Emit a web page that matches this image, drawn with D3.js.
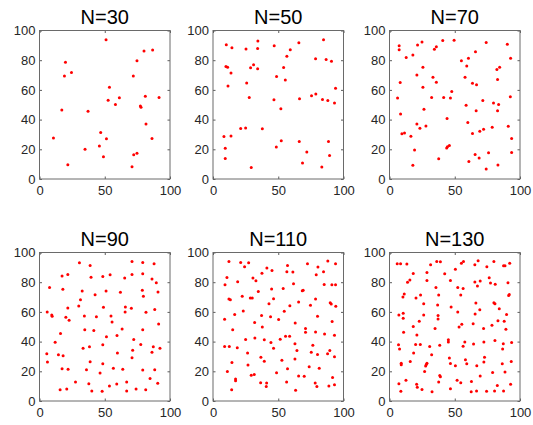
<!DOCTYPE html>
<html><head><meta charset="utf-8">
<script src="https://cdn.jsdelivr.net/npm/d3@7"></script>
<style>body{margin:0;background:#fff}svg{display:block}</style>
</head><body>
<svg id="c" width="533" height="425"></svg>
<script>
const titles = ["N=30", "N=50", "N=70", "N=90", "N=110", "N=130"];
const xTicks = [0, 50, 100];
const yTicks = [0, 20, 40, 60, 80, 100];

const pts30 = [[51.0,93.8],[86.7,86.9],[80.1,86.2],[19.9,78.7],[74.7,79.6],[24.5,71.8],[19.1,69.3],[71.9,69.3],[53.6,61.8],[81.1,55.8],[91.6,54.9],[61.2,54.7],[52.6,53.1],[58.2,50.2],[77.3,49.1],[77.8,48.4],[17.1,46.4],[37.2,45.6],[81.6,37.1],[46.9,31.3],[10.7,27.6],[51.3,27.1],[86.2,27.3],[45.9,22.2],[34.9,20.0],[49.0,14.9],[74.7,17.3],[72.2,16.4],[21.7,9.6],[70.9,8.2]];

const pts50 = [[84.7,93.8],[34.4,92.9],[65.8,91.8],[10.2,90.4],[46.9,89.8],[14.5,88.4],[34.2,87.8],[25.3,87.6],[59.2,87.1],[56.6,82.7],[78.6,80.9],[86.7,80.4],[90.8,79.3],[31.1,76.9],[9.9,75.8],[11.2,75.3],[28.8,74.9],[54.1,75.1],[34.2,74.2],[13.8,71.3],[48.7,69.1],[55.4,66.7],[25.8,64.7],[11.5,62.7],[93.9,61.1],[27.8,54.9],[78.8,57.3],[75.5,56.0],[66.3,54.0],[83.9,53.6],[46.7,53.3],[88.0,52.9],[93.1,51.1],[52.0,47.3],[21.2,34.0],[25.0,34.4],[37.8,33.8],[8.4,28.7],[13.8,28.9],[52.3,25.8],[66.1,25.3],[88.5,25.3],[48.5,21.6],[9.4,20.7],[71.9,18.2],[89.3,15.8],[9.4,13.8],[68.6,10.7],[29.3,7.8],[83.4,8.0]];

const pts70 = [[7.4,89.7],[7.4,87.1],[24.9,92.2],[21.5,90.2],[40.8,93.3],[49.5,93.5],[35.9,89.1],[34.4,87.3],[74.1,92.0],[90.3,90.8],[17.9,83.5],[12.8,81.9],[65.9,85.7],[60.5,81.3],[55.1,79.7],[92.8,81.3],[59.2,76.1],[25.6,75.2],[84.4,75.2],[82.3,73.7],[21.0,70.1],[33.3,68.5],[57.9,68.5],[82.8,67.0],[35.9,65.2],[8.2,65.0],[63.6,64.5],[66.7,63.4],[25.6,61.8],[47.7,58.9],[6.2,54.5],[32.3,54.9],[41.5,54.9],[46.7,54.5],[92.6,55.4],[71.5,52.9],[79.7,51.1],[83.6,50.2],[58.7,49.6],[26.4,46.9],[66.4,46.0],[82.8,46.0],[8.5,43.8],[44.1,40.8],[60.0,38.0],[21.0,37.1],[27.9,35.7],[23.3,34.2],[91.0,35.5],[78.7,34.8],[72.1,33.5],[69.2,32.1],[9.5,30.4],[11.5,31.0],[63.6,30.6],[16.4,28.8],[93.6,27.2],[45.9,22.5],[44.4,21.7],[43.8,20.8],[19.2,19.6],[75.9,17.6],[93.6,17.9],[65.6,16.5],[68.7,14.1],[37.7,13.6],[60.8,11.8],[17.9,9.2],[83.1,9.4],[74.1,6.7]];

const pts90 = [[30.6,93.1],[70.9,94.0],[79.1,93.3],[87.8,92.4],[38.8,91.3],[17.3,84.1],[21.7,85.2],[39.5,83.4],[48.5,83.9],[54.1,85.0],[65.3,82.8],[70.9,85.2],[79.1,85.7],[86.2,82.1],[89.5,79.6],[7.7,76.5],[17.9,75.2],[32.7,74.0],[51.0,74.0],[78.8,74.5],[90.8,73.4],[62.0,73.2],[42.6,71.6],[79.6,70.5],[31.4,68.2],[30.1,64.0],[65.8,63.3],[70.4,62.4],[21.7,62.6],[49.0,63.1],[88.3,61.7],[65.6,60.0],[5.9,60.0],[81.6,59.7],[9.4,57.9],[9.7,57.0],[20.2,56.4],[34.4,57.3],[43.6,56.8],[54.8,57.3],[22.7,54.4],[55.6,53.2],[91.3,51.9],[63.3,48.5],[34.7,47.9],[41.6,47.4],[79.1,47.9],[16.1,45.4],[59.4,44.1],[51.3,43.2],[72.2,41.4],[12.0,39.6],[77.6,38.0],[48.5,37.8],[38.3,36.5],[87.2,36.5],[92.3,35.6],[33.4,35.6],[71.4,34.2],[86.2,32.9],[59.7,32.4],[5.6,31.8],[14.5,31.1],[18.1,30.4],[70.9,29.1],[6.1,26.2],[38.8,26.4],[48.5,25.1],[56.6,22.1],[17.3,21.7],[21.9,21.3],[36.0,21.0],[63.8,21.3],[79.1,20.8],[88.3,21.0],[46.4,18.8],[84.7,15.2],[27.6,12.8],[37.8,11.6],[59.2,11.4],[90.6,11.9],[53.6,10.1],[66.8,12.8],[15.8,7.6],[20.9,8.1],[40.1,6.7],[48.0,6.5],[66.8,6.7],[74.0,8.1],[81.4,7.6]];

const pts110 = [[12.2,94.0],[21.2,93.3],[27.3,93.1],[24.2,90.4],[41.3,89.5],[57.1,91.3],[72.4,92.4],[88.0,94.2],[93.9,92.4],[80.4,90.2],[45.2,87.9],[56.6,87.0],[61.2,86.8],[84.7,87.0],[37.5,86.1],[79.1,85.0],[10.7,83.2],[30.6,82.8],[32.9,81.0],[18.9,80.3],[44.9,75.4],[53.8,75.8],[9.2,78.3],[61.7,79.0],[85.2,78.5],[91.1,78.3],[93.9,78.3],[34.7,73.8],[68.4,74.3],[69.1,74.5],[22.4,70.5],[12.2,68.7],[13.3,68.2],[28.6,69.4],[30.1,69.4],[46.4,68.9],[78.6,68.7],[65.6,66.7],[89.8,66.2],[90.6,65.3],[74.7,64.4],[42.9,65.5],[58.9,64.2],[94.1,63.8],[54.6,60.4],[23.2,60.6],[16.6,58.2],[37.2,57.5],[80.1,57.0],[8.9,55.0],[44.1,56.8],[50.3,54.8],[31.9,52.8],[63.0,52.6],[91.3,53.5],[37.8,49.9],[15.1,47.9],[70.9,48.8],[70.9,46.3],[78.6,46.5],[85.5,45.2],[93.1,44.3],[55.6,43.6],[58.7,43.6],[25.0,41.4],[32.1,42.5],[39.3,41.2],[51.5,41.6],[44.4,39.4],[62.8,38.5],[76.5,37.6],[8.9,36.7],[12.5,36.7],[18.6,35.8],[46.4,35.6],[64.3,34.0],[89.5,34.0],[75.3,32.9],[26.5,32.4],[87.8,31.8],[80.1,31.3],[93.1,29.8],[36.7,29.5],[62.8,28.2],[39.3,26.8],[14.5,26.0],[52.8,27.5],[26.8,24.2],[73.7,23.0],[57.1,21.7],[81.4,22.1],[11.0,19.9],[48.7,19.0],[29.3,17.4],[31.6,17.9],[65.6,16.8],[69.9,16.6],[17.3,14.8],[17.3,13.6],[91.6,15.9],[36.5,12.3],[41.1,12.1],[56.4,12.8],[78.3,12.1],[93.1,11.0],[40.8,9.8],[79.6,9.8],[88.8,10.1],[14.3,7.6],[63.3,7.2]];

const pts130 = [[5.9,92.4],[8.5,92.4],[13.3,92.2],[31.5,91.7],[36.2,94.0],[39.0,93.7],[50.5,88.8],[55.1,92.8],[56.7,94.0],[65.4,91.7],[67.9,94.4],[74.6,90.4],[80.0,94.0],[87.4,91.1],[88.5,91.1],[92.1,92.8],[18.2,85.9],[28.7,86.6],[42.3,85.7],[46.7,81.2],[15.6,81.4],[13.8,79.9],[28.7,81.2],[65.4,80.1],[69.5,80.8],[76.4,83.0],[77.4,79.4],[81.0,78.7],[90.8,79.6],[52.3,76.5],[56.4,75.8],[67.4,77.4],[35.6,76.5],[11.3,72.0],[10.3,70.0],[23.8,71.4],[37.7,71.4],[54.6,71.4],[91.8,71.8],[91.3,71.1],[20.3,69.4],[66.2,66.0],[80.0,66.2],[80.8,65.5],[26.2,65.5],[36.9,64.7],[47.2,63.3],[69.2,61.5],[84.1,62.2],[52.3,60.0],[10.5,59.1],[7.2,57.9],[26.2,57.9],[37.2,57.5],[65.6,58.6],[89.7,58.2],[10.5,55.7],[37.2,55.3],[22.8,53.7],[83.1,54.1],[55.4,51.7],[64.1,52.1],[78.5,51.0],[18.2,50.1],[53.3,49.9],[72.1,48.8],[89.2,48.3],[34.9,48.8],[87.9,53.7],[10.8,46.3],[21.0,44.5],[45.1,41.2],[45.1,39.8],[57.7,39.8],[72.3,39.8],[80.8,40.7],[87.2,38.5],[93.6,39.4],[6.9,37.8],[20.0,38.0],[23.6,38.0],[38.5,37.6],[64.4,38.3],[56.4,36.9],[7.7,35.1],[30.8,36.7],[86.7,35.1],[18.5,32.4],[32.3,31.1],[72.8,29.5],[45.9,28.9],[58.2,27.7],[15.9,26.6],[93.3,26.6],[9.0,25.5],[28.7,25.5],[72.3,26.2],[9.0,24.4],[28.2,24.6],[46.7,25.3],[59.2,25.1],[27.7,23.5],[50.5,23.7],[66.9,23.7],[86.4,25.1],[26.9,19.9],[79.0,19.2],[88.5,19.5],[38.5,17.2],[39.0,16.3],[69.5,16.8],[12.6,13.9],[51.8,13.9],[54.6,12.3],[37.7,12.8],[62.8,13.2],[7.2,11.6],[20.8,11.2],[21.3,9.2],[92.8,11.2],[82.6,10.5],[46.7,8.3],[24.9,7.8],[8.7,6.5],[32.6,6.3],[62.6,6.3],[66.7,6.7],[74.4,6.5],[80.5,6.7],[87.4,6.7]];

const seriesList = [pts30, pts50, pts70, pts90, pts110, pts130];

const svg = d3.select("#c");
svg.append("rect").attr("width", 533).attr("height", 425).attr("fill", "#fff");

const colLeft = [39.5, 213, 389.5];
const rowTop = [30.5, 252.5];
const W = 130.5, H = 148.5;
const FONT = "'Liberation Sans', Arial, Helvetica, sans-serif";

seriesList.forEach((pts, i) => {
  const L = colLeft[i % 3], T = rowTop[Math.floor(i / 3)];
  const x = d3.scaleLinear().domain([0, 100]).range([L, L + W]);
  const y = d3.scaleLinear().domain([0, 100]).range([T + H, T]);
  const g = svg.append("g");

  const ax = (sel) => {
    sel.select(".domain").remove();
    sel.selectAll("line").attr("stroke", "#333").attr("stroke-width", 0.8);
    sel.selectAll("text").attr("fill", "#262626").style("font-family", FONT).style("font-size", "13px");
  };
  g.append("g").attr("transform", `translate(${L},0)`)
    .call(d3.axisLeft(y).tickValues(yTicks).tickSizeInner(-2.5).tickSizeOuter(0).tickPadding(4)).call(ax);
  g.append("g").attr("transform", `translate(0,${T + H})`)
    .call(d3.axisBottom(x).tickValues(xTicks).tickSizeInner(-2.5).tickSizeOuter(0).tickPadding(7)).call(ax);
  g.append("g").attr("transform", `translate(${L + W},0)`)
    .call(d3.axisRight(y).tickValues(yTicks).tickSizeInner(-2.5).tickSizeOuter(0).tickFormat("")).call(ax);
  g.append("g").attr("transform", `translate(0,${T})`)
    .call(d3.axisTop(x).tickValues(xTicks).tickSizeInner(-2.5).tickSizeOuter(0).tickFormat("")).call(ax);

  g.append("rect").attr("x", L).attr("y", T).attr("width", W).attr("height", H)
    .attr("fill", "none").attr("stroke", "#6a6a6a").attr("stroke-width", 1);

  g.append("g").selectAll("circle").data(pts).join("circle")
    .attr("cx", d => x(d[0])).attr("cy", d => y(d[1])).attr("r", 1.5).attr("fill", "#ff0000");

  g.append("text").attr("x", L + W / 2).attr("y", T - 6.5).attr("text-anchor", "middle")
    .style("font-family", FONT).style("font-size", "20px").attr("fill", "#000").text(titles[i]);
});
</script>
</body></html>
